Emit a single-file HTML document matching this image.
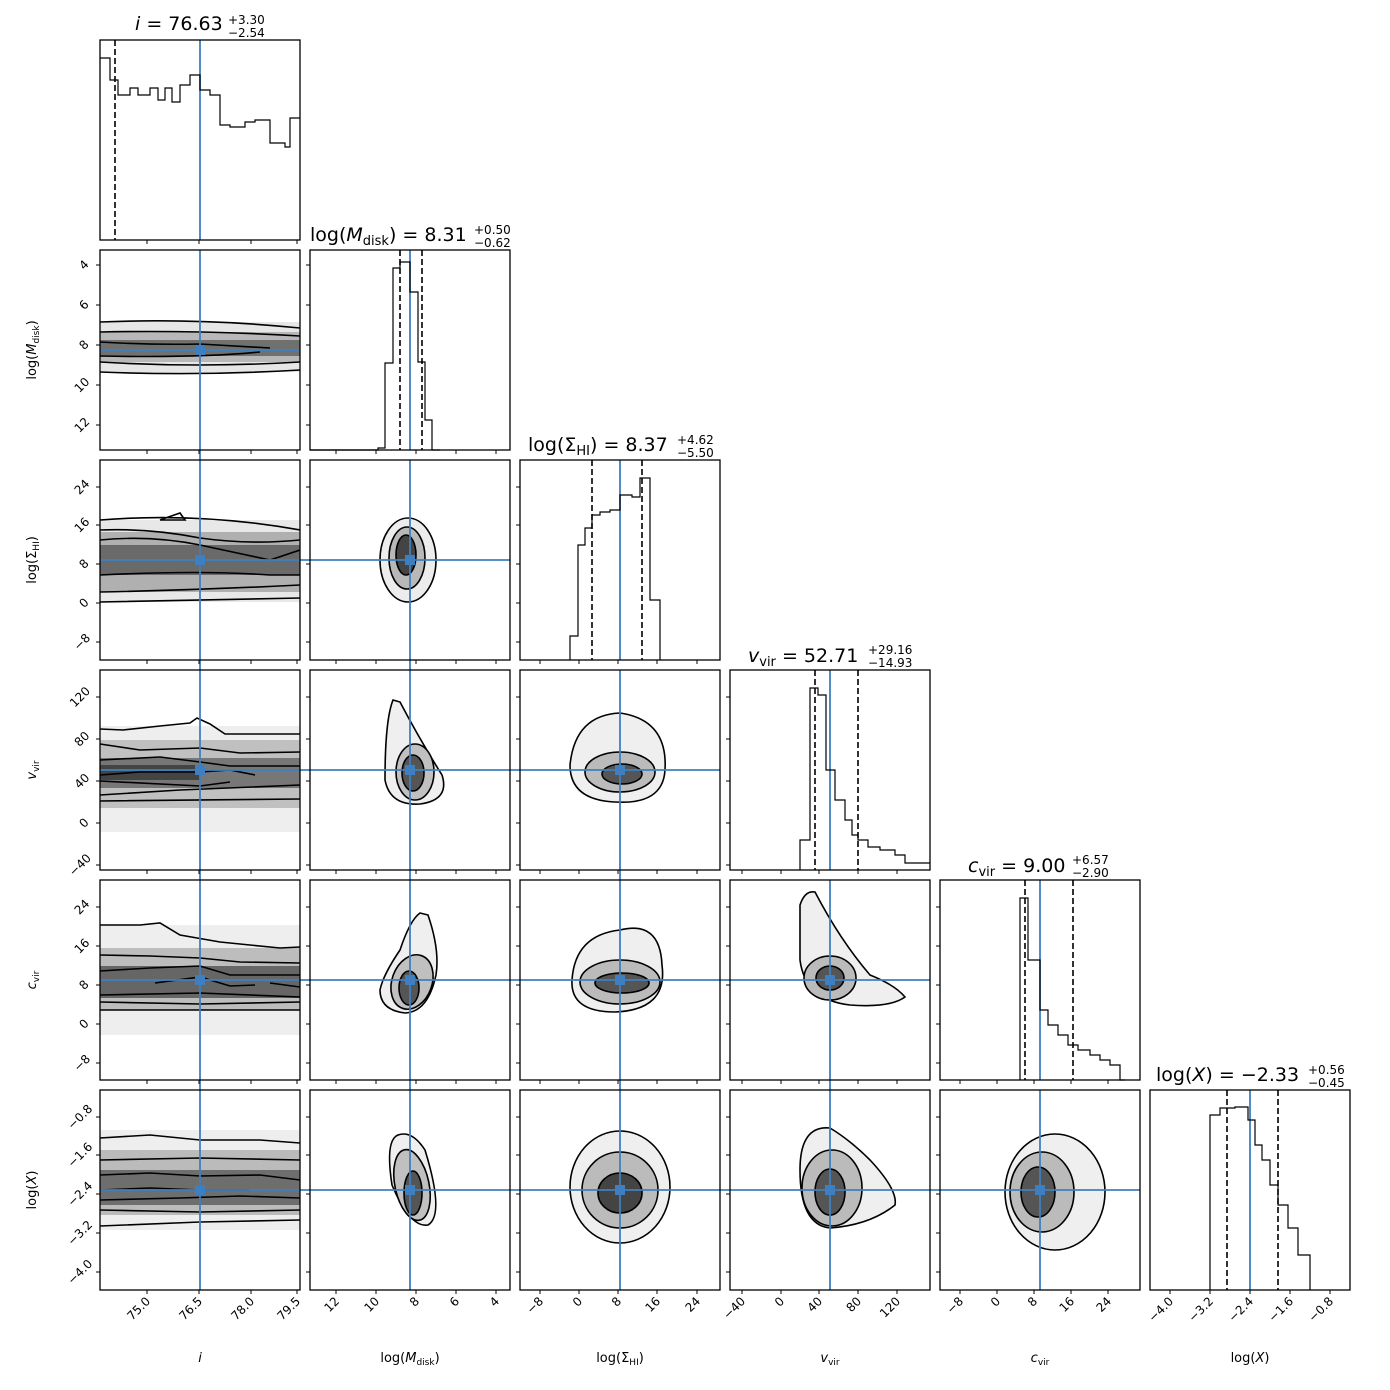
<!DOCTYPE html>
<html><head><meta charset="utf-8"><style>
html,body{margin:0;padding:0;background:#fff}
svg{display:block;font-family:"DejaVu Sans","Liberation Sans",sans-serif}
.f{fill:none;stroke:#000;stroke-width:1.3}
.c{stroke:#000;stroke-width:1.6}
.b{stroke:#3f7fbf;stroke-width:1.8}
.d{fill:none;stroke:#000;stroke-width:1.6;stroke-dasharray:6,3}
.h{fill:none;stroke:#000;stroke-width:1.2}
.t{font-size:12px}
.ti{font-size:19px}
.lab{font-size:13px}
</style></head><body>
<svg width="1390" height="1390" viewBox="0 0 1390 1390" xmlns="http://www.w3.org/2000/svg">
<defs>
<clipPath id="p0"><rect x="100" y="0" width="200" height="1390"/></clipPath>
</defs>

<g clip-path="url(#p0)">
 <rect x="100" y="322" width="200" height="50" fill="#e6e6e6"/>
 <rect x="100" y="332" width="200" height="30" fill="#b8b8b8"/>
 <rect x="100" y="340" width="200" height="16" fill="#707070"/>
 <path class="c" fill="none" d="M100 322 Q200 318 300 328 M100 372 Q200 376 300 370 M100 332 Q200 330 300 336 M100 362 Q200 368 300 362 M100 342 Q150 345 200 344 L270 348 M100 356 Q200 358 260 352"/>
 <rect x="100" y="520" width="200" height="82" fill="#e8e8e8"/>
 <rect x="100" y="532" width="200" height="60" fill="#b0b0b0"/>
 <rect x="100" y="545" width="200" height="30" fill="#6a6a6a"/>
 <path class="c" fill="none" d="M100 520 Q200 512 300 530 M100 602 Q200 600 300 598 M100 530 Q150 528 200 538 Q250 545 300 540 M100 592 Q200 590 300 585 M100 540 Q150 535 200 545 L270 560 L300 550 M100 575 Q200 570 270 575 L300 575 M160 520 L180 513 L185 520 Z"/>
 <rect x="100" y="726" width="200" height="106" fill="#eeeeee"/>
 <rect x="100" y="740" width="200" height="68" fill="#c0c0c0"/>
 <rect x="100" y="758" width="200" height="30" fill="#777"/>
 <rect x="100" y="765" width="100" height="15" fill="#444"/>
 <path class="c" fill="none" d="M100 729 L123 730 L160 726 L190 723 L197 718 L210 724 L225 734 L300 734 M100 744 L140 750 L200 748 L240 753 L300 752 M100 760 L160 757 L200 762 L230 766 L300 766 M100 775 L140 772 L200 772 L230 770 L255 775 M100 781 L200 786 L230 782 M100 795 L180 790 L300 785 M100 801 L300 799"/>
 <rect x="100" y="925" width="200" height="110" fill="#eeeeee"/>
 <rect x="100" y="948" width="200" height="62" fill="#bdbdbd"/>
 <rect x="100" y="966" width="200" height="32" fill="#666"/>
 <path class="c" fill="none" d="M100 925 L140 925 L160 923 L180 935 L220 942 L280 948 L300 947 M100 955 L150 956 L200 958 L240 962 L300 963 M100 971 L150 968 L200 966 L230 975 L300 975 M100 995 L200 993 L300 997 M100 1002 L200 1004 L300 1002 M100 1010 L300 1010 M155 983 L200 977 L230 986 L255 985 M270 983 L300 987"/>
 <rect x="100" y="1130" width="200" height="100" fill="#eeeeee"/>
 <rect x="100" y="1150" width="200" height="65" fill="#bbbbbb"/>
 <rect x="100" y="1170" width="200" height="35" fill="#6e6e6e"/>
 <path class="c" fill="none" d="M100 1138 L150 1135 L200 1140 L260 1140 L300 1143 M100 1160 L200 1158 L300 1160 M100 1175 L150 1173 L200 1176 L260 1175 L300 1180 M100 1200 L180 1198 L240 1196 L300 1198 M100 1210 L200 1212 L300 1210 M100 1226 L200 1222 L300 1220 M100 1190 L150 1188 L200 1190 L250 1190"/>
</g>

<g>
 <ellipse cx="408" cy="560" rx="28" ry="42" fill="#ececec" class="c"/>
 <ellipse cx="407" cy="558" rx="18" ry="31" fill="#b8b8b8" class="c"/>
 <ellipse cx="406" cy="555" rx="10" ry="20" fill="#444" class="c"/>
 <path class="c" fill="#efefef" d="M393 700 L400 702 Q420 740 442 775 Q450 800 420 804 Q390 806 385 780 Q385 720 393 700 Z"/>
 <ellipse cx="415" cy="772" rx="19" ry="28" fill="#c0c0c0" class="c"/>
 <ellipse cx="413" cy="773" rx="11" ry="18" fill="#555" class="c"/>
 <path class="c" fill="#efefef" d="M420 913 L428 915 Q440 950 436 975 Q428 1012 405 1013 Q380 1010 380 990 Q383 975 400 950 Q410 920 420 913 Z"/>
 <ellipse cx="412" cy="982" rx="20" ry="28" fill="#c0c0c0" class="c" transform="rotate(20 412 982)"/>
 <ellipse cx="409" cy="988" rx="10" ry="17" fill="#555" class="c"/>
 <path class="c" fill="#efefef" d="M398 1135 Q412 1130 425 1150 Q445 1215 428 1225 Q410 1228 392 1185 Q385 1140 398 1135 Z"/>
 <ellipse cx="412" cy="1185" rx="17" ry="36" fill="#c0c0c0" class="c" transform="rotate(-12 412 1185)"/>
 <ellipse cx="413" cy="1193" rx="9" ry="22" fill="#555" class="c"/>
</g>
<g>
 <path class="c" fill="#efefef" d="M570 765 Q575 715 620 713 Q668 720 665 770 Q663 805 615 802 Q570 800 570 765 Z"/>
 <ellipse cx="620" cy="772" rx="35" ry="20" fill="#bbb" class="c"/>
 <ellipse cx="622" cy="774" rx="20" ry="10" fill="#555" class="c"/>
 <path class="c" fill="#efefef" d="M572 980 Q575 935 620 930 Q660 920 662 965 Q668 1010 615 1012 Q570 1012 572 980 Z"/>
 <ellipse cx="620" cy="982" rx="40" ry="22" fill="#bbb" class="c"/>
 <ellipse cx="622" cy="983" rx="27" ry="10" fill="#555" class="c"/>
 <ellipse cx="620" cy="1187" rx="50" ry="56" fill="#efefef" class="c"/>
 <ellipse cx="620" cy="1190" rx="38" ry="38" fill="#bbb" class="c"/>
 <ellipse cx="620" cy="1193" rx="22" ry="20" fill="#444" class="c"/>
</g>
<g>
 <path class="c" fill="#efefef" d="M800 905 Q805 890 815 892 Q840 940 870 975 Q895 985 905 997 Q890 1008 850 1005 Q805 1000 800 960 Z"/>
 <ellipse cx="830" cy="978" rx="26" ry="22" fill="#bbb" class="c"/>
 <ellipse cx="830" cy="978" rx="14" ry="12" fill="#555" class="c"/>
 <path class="c" fill="#efefef" d="M800 1170 Q800 1125 830 1128 Q850 1140 870 1160 Q898 1190 895 1205 Q870 1225 830 1228 Q800 1225 800 1170 Z"/>
 <ellipse cx="832" cy="1188" rx="30" ry="38" fill="#bbb" class="c"/>
 <ellipse cx="830" cy="1192" rx="15" ry="23" fill="#555" class="c"/>
</g>
<g>
 <ellipse cx="1055" cy="1192" rx="50" ry="58" fill="#efefef" class="c"/>
 <ellipse cx="1042" cy="1192" rx="32" ry="40" fill="#bbb" class="c"/>
 <ellipse cx="1038" cy="1192" rx="17" ry="25" fill="#555" class="c"/>
</g>

<g class="b">
 <line x1="200" y1="40" x2="200" y2="240"/>
 <line x1="200" y1="250" x2="200" y2="1290"/>
 <line x1="410" y1="250" x2="410" y2="450"/>
 <line x1="410" y1="460" x2="410" y2="1290"/>
 <line x1="620" y1="460" x2="620" y2="660"/>
 <line x1="620" y1="670" x2="620" y2="1290"/>
 <line x1="830" y1="670" x2="830" y2="870"/>
 <line x1="830" y1="880" x2="830" y2="1290"/>
 <line x1="1040" y1="880" x2="1040" y2="1080"/>
 <line x1="1040" y1="1090" x2="1040" y2="1290"/>
 <line x1="1250" y1="1090" x2="1250" y2="1290"/>
 <line x1="100" y1="350" x2="300" y2="350"/>
 <line x1="100" y1="560" x2="510" y2="560"/>
 <line x1="100" y1="770" x2="720" y2="770"/>
 <line x1="100" y1="980" x2="930" y2="980"/>
 <line x1="100" y1="1190" x2="1140" y2="1190"/>
</g>
<g fill="#3f7fbf">
 <rect x="195" y="345" width="10" height="10"/>
 <rect x="195" y="555" width="10" height="10"/><rect x="405" y="555" width="10" height="10"/>
 <rect x="195" y="765" width="10" height="10"/><rect x="405" y="765" width="10" height="10"/><rect x="615" y="765" width="10" height="10"/>
 <rect x="195" y="975" width="10" height="10"/><rect x="405" y="975" width="10" height="10"/><rect x="615" y="975" width="10" height="10"/><rect x="825" y="975" width="10" height="10"/>
 <rect x="195" y="1185" width="10" height="10"/><rect x="405" y="1185" width="10" height="10"/><rect x="615" y="1185" width="10" height="10"/><rect x="825" y="1185" width="10" height="10"/><rect x="1035" y="1185" width="10" height="10"/>
</g>

<path class="h" d="M100 58 H110 V80 H118 V95 H130 V88 H138 V95 H150 V88 H158 V100 H165 V88 H172 V102 H180 V85 H190 V75 H200 V90 H210 V95 H220 V125 H230 V127 H245 V122 H255 V120 H270 V143 H285 V147 H290 V118 H300"/>
<line class="d" x1="115" y1="40" x2="115" y2="240"/>
<path class="h" d="M310 450 H378 V448 H385 V363 H393 V268 H400 V262 H410 V292 H418 V362 H425 V420 H432 V450 H440"/>
<line class="d" x1="400" y1="250" x2="400" y2="450"/>
<line class="d" x1="422" y1="250" x2="422" y2="450"/>
<path class="h" d="M570 660 V636 H578 V545 H585 V528 H592 V515 H600 V512 H610 V510 H620 V495 H632 V497 H640 V478 H650 V600 H660 V660"/>
<line class="d" x1="592" y1="460" x2="592" y2="660"/>
<line class="d" x1="642" y1="460" x2="642" y2="660"/>
<path class="h" d="M800 870 V840 H810 V688 H818 V695 H826 V770 H835 V800 H845 V820 H852 V835 H858 V840 H868 V847 H880 V850 H895 V855 H905 V863 H930"/>
<line class="d" x1="815" y1="670" x2="815" y2="870"/>
<line class="d" x1="858" y1="670" x2="858" y2="870"/>
<path class="h" d="M1020 1080 V898 H1028 V960 H1040 V1010 H1048 V1025 H1058 V1035 H1068 V1045 H1078 V1050 H1090 V1055 H1100 V1060 H1110 V1065 H1120 V1080 H1125"/>
<line class="d" x1="1025" y1="880" x2="1025" y2="1080"/>
<line class="d" x1="1073" y1="880" x2="1073" y2="1080"/>
<path class="h" d="M1210 1290 V1115 H1220 V1108 H1235 V1107 H1248 V1120 H1255 V1145 H1262 V1160 H1270 V1185 H1278 V1205 H1288 V1228 H1298 V1255 H1310 V1290"/>
<line class="d" x1="1227" y1="1090" x2="1227" y2="1290"/>
<line class="d" x1="1278" y1="1090" x2="1278" y2="1290"/>

<g class="f">
 <rect x="100" y="40" width="200" height="200"/>
 <rect x="100" y="250" width="200" height="200"/><rect x="310" y="250" width="200" height="200"/>
 <rect x="100" y="460" width="200" height="200"/><rect x="310" y="460" width="200" height="200"/><rect x="520" y="460" width="200" height="200"/>
 <rect x="100" y="670" width="200" height="200"/><rect x="310" y="670" width="200" height="200"/><rect x="520" y="670" width="200" height="200"/><rect x="730" y="670" width="200" height="200"/>
 <rect x="100" y="880" width="200" height="200"/><rect x="310" y="880" width="200" height="200"/><rect x="520" y="880" width="200" height="200"/><rect x="730" y="880" width="200" height="200"/><rect x="940" y="880" width="200" height="200"/>
 <rect x="100" y="1090" width="200" height="200"/><rect x="310" y="1090" width="200" height="200"/><rect x="520" y="1090" width="200" height="200"/><rect x="730" y="1090" width="200" height="200"/><rect x="940" y="1090" width="200" height="200"/><rect x="1150" y="1090" width="200" height="200"/>
</g>

<g stroke="#000" stroke-width="1">
 <path d="M147 240v4M199 240v4M251 240v4M297 240v4 M147 450v4M199 450v4M251 450v4M297 450v4 M147 660v4M199 660v4M251 660v4M297 660v4 M147 870v4M199 870v4M251 870v4M297 870v4 M147 1080v4M199 1080v4M251 1080v4M297 1080v4 M147 1290v4M199 1290v4M251 1290v4M297 1290v4"/>
 <path d="M336 450v4M376 450v4M416 450v4M456 450v4M496 450v4 M336 660v4M376 660v4M416 660v4M456 660v4M496 660v4 M336 870v4M376 870v4M416 870v4M456 870v4M496 870v4 M336 1080v4M376 1080v4M416 1080v4M456 1080v4M496 1080v4 M336 1290v4M376 1290v4M416 1290v4M456 1290v4M496 1290v4"/>
 <path d="M540 660v4M579 660v4M618 660v4M657 660v4M697 660v4 M540 870v4M579 870v4M618 870v4M657 870v4M697 870v4 M540 1080v4M579 1080v4M618 1080v4M657 1080v4M697 1080v4 M540 1290v4M579 1290v4M618 1290v4M657 1290v4M697 1290v4"/>
 <path d="M742 870v4M781 870v4M819 870v4M858 870v4M897 870v4 M742 1080v4M781 1080v4M819 1080v4M858 1080v4M897 1080v4 M742 1290v4M781 1290v4M819 1290v4M858 1290v4M897 1290v4"/>
 <path d="M960 1080v4M997 1080v4M1034 1080v4M1071 1080v4M1108 1080v4 M960 1290v4M997 1290v4M1034 1290v4M1071 1290v4M1108 1290v4"/>
 <path d="M1170 1290v4M1210 1290v4M1250 1290v4M1290 1290v4M1330 1290v4"/>
 <path d="M96 265h4M96 305h4M96 345h4M96 385h4M96 425h4 M306 265h4M306 305h4M306 345h4M306 385h4M306 425h4"/>
 <path d="M96 487h4M96 525h4M96 564h4M96 603h4M96 642h4 M306 487h4M306 525h4M306 564h4M306 603h4M306 642h4 M516 487h4M516 525h4M516 564h4M516 603h4M516 642h4"/>
 <path d="M96 697h4M96 739h4M96 781h4M96 823h4M96 865h4 M306 697h4M306 739h4M306 781h4M306 823h4M306 865h4 M516 697h4M516 739h4M516 781h4M516 823h4M516 865h4 M726 697h4M726 739h4M726 781h4M726 823h4M726 865h4"/>
 <path d="M96 907h4M96 946h4M96 985h4M96 1024h4M96 1063h4 M306 907h4M306 946h4M306 985h4M306 1024h4M306 1063h4 M516 907h4M516 946h4M516 985h4M516 1024h4M516 1063h4 M726 907h4M726 946h4M726 985h4M726 1024h4M726 1063h4 M936 907h4M936 946h4M936 985h4M936 1024h4M936 1063h4"/>
 <path d="M96 1117h4M96 1155h4M96 1194h4M96 1233h4M96 1272h4 M306 1117h4M306 1155h4M306 1194h4M306 1233h4M306 1272h4 M516 1117h4M516 1155h4M516 1194h4M516 1233h4M516 1272h4 M726 1117h4M726 1155h4M726 1194h4M726 1233h4M726 1272h4 M936 1117h4M936 1155h4M936 1194h4M936 1233h4M936 1272h4"/>
</g>

<g class="t" text-anchor="end">
 <text transform="translate(151,1302) rotate(-45)">75.0</text>
 <text transform="translate(203,1302) rotate(-45)">76.5</text>
 <text transform="translate(255,1302) rotate(-45)">78.0</text>
 <text transform="translate(301,1302) rotate(-45)">79.5</text>
 <text transform="translate(340,1302) rotate(-45)">12</text>
 <text transform="translate(380,1302) rotate(-45)">10</text>
 <text transform="translate(420,1302) rotate(-45)">8</text>
 <text transform="translate(460,1302) rotate(-45)">6</text>
 <text transform="translate(500,1302) rotate(-45)">4</text>
 <text transform="translate(544,1302) rotate(-45)">−8</text>
 <text transform="translate(583,1302) rotate(-45)">0</text>
 <text transform="translate(622,1302) rotate(-45)">8</text>
 <text transform="translate(661,1302) rotate(-45)">16</text>
 <text transform="translate(701,1302) rotate(-45)">24</text>
 <text transform="translate(746,1302) rotate(-45)">−40</text>
 <text transform="translate(785,1302) rotate(-45)">0</text>
 <text transform="translate(823,1302) rotate(-45)">40</text>
 <text transform="translate(862,1302) rotate(-45)">80</text>
 <text transform="translate(901,1302) rotate(-45)">120</text>
 <text transform="translate(964,1302) rotate(-45)">−8</text>
 <text transform="translate(1001,1302) rotate(-45)">0</text>
 <text transform="translate(1038,1302) rotate(-45)">8</text>
 <text transform="translate(1075,1302) rotate(-45)">16</text>
 <text transform="translate(1112,1302) rotate(-45)">24</text>
 <text transform="translate(1174,1302) rotate(-45)">−4.0</text>
 <text transform="translate(1214,1302) rotate(-45)">−3.2</text>
 <text transform="translate(1254,1302) rotate(-45)">−2.4</text>
 <text transform="translate(1294,1302) rotate(-45)">−1.6</text>
 <text transform="translate(1334,1302) rotate(-45)">−0.8</text>
</g>
<g class="t" text-anchor="middle">
 <text transform="translate(84,265) rotate(-45)" dy="4">4</text>
 <text transform="translate(84,305) rotate(-45)" dy="4">6</text>
 <text transform="translate(84,345) rotate(-45)" dy="4">8</text>
 <text transform="translate(82,385) rotate(-45)" dy="4">10</text>
 <text transform="translate(82,425) rotate(-45)" dy="4">12</text>
 <text transform="translate(82,487) rotate(-45)" dy="4">24</text>
 <text transform="translate(82,525) rotate(-45)" dy="4">16</text>
 <text transform="translate(84,564) rotate(-45)" dy="4">8</text>
 <text transform="translate(84,603) rotate(-45)" dy="4">0</text>
 <text transform="translate(82,642) rotate(-45)" dy="4">−8</text>
 <text transform="translate(80,697) rotate(-45)" dy="4">120</text>
 <text transform="translate(82,739) rotate(-45)" dy="4">80</text>
 <text transform="translate(82,781) rotate(-45)" dy="4">40</text>
 <text transform="translate(84,823) rotate(-45)" dy="4">0</text>
 <text transform="translate(80,865) rotate(-45)" dy="4">−40</text>
 <text transform="translate(82,907) rotate(-45)" dy="4">24</text>
 <text transform="translate(82,946) rotate(-45)" dy="4">16</text>
 <text transform="translate(84,985) rotate(-45)" dy="4">8</text>
 <text transform="translate(84,1024) rotate(-45)" dy="4">0</text>
 <text transform="translate(82,1063) rotate(-45)" dy="4">−8</text>
 <text transform="translate(80,1117) rotate(-45)" dy="4">−0.8</text>
 <text transform="translate(80,1155) rotate(-45)" dy="4">−1.6</text>
 <text transform="translate(80,1194) rotate(-45)" dy="4">−2.4</text>
 <text transform="translate(80,1233) rotate(-45)" dy="4">−3.2</text>
 <text transform="translate(80,1272) rotate(-45)" dy="4">−4.0</text>
</g>

<g class="lab" text-anchor="middle">
 <text x="200" y="1362" font-style="italic">i</text>
 <text x="410" y="1362">log(<tspan font-style="italic">M</tspan><tspan font-size="9" dy="3">disk</tspan><tspan dy="-3">)</tspan></text>
 <text x="620" y="1362">log(Σ<tspan font-size="9" dy="3">HI</tspan><tspan dy="-3">)</tspan></text>
 <text x="830" y="1362"><tspan font-style="italic">v</tspan><tspan font-size="9" dy="3">vir</tspan></text>
 <text x="1040" y="1362"><tspan font-style="italic">c</tspan><tspan font-size="9" dy="3">vir</tspan></text>
 <text x="1250" y="1362">log(<tspan font-style="italic">X</tspan>)</text>
 <text transform="translate(36,350) rotate(-90)">log(<tspan font-style="italic">M</tspan><tspan font-size="9" dy="3">disk</tspan><tspan dy="-3">)</tspan></text>
 <text transform="translate(36,560) rotate(-90)">log(Σ<tspan font-size="9" dy="3">HI</tspan><tspan dy="-3">)</tspan></text>
 <text transform="translate(36,770) rotate(-90)"><tspan font-style="italic">v</tspan><tspan font-size="9" dy="3">vir</tspan></text>
 <text transform="translate(36,980) rotate(-90)"><tspan font-style="italic">c</tspan><tspan font-size="9" dy="3">vir</tspan></text>
 <text transform="translate(36,1190) rotate(-90)">log(<tspan font-style="italic">X</tspan>)</text>
</g>

<g class="ti">
 <text x="135" y="30"><tspan font-style="italic">i</tspan> = 76.63</text>
 <text x="228" y="24" font-size="12">+3.30</text><text x="228" y="37" font-size="12">−2.54</text>
 <text x="310" y="241">log(<tspan font-style="italic">M</tspan><tspan font-size="13" dy="4">disk</tspan><tspan dy="-4">) = 8.31</tspan></text>
 <text x="474" y="234" font-size="12">+0.50</text><text x="474" y="247" font-size="12">−0.62</text>
 <text x="528" y="451">log(Σ<tspan font-size="13" dy="4">HI</tspan><tspan dy="-4">) = 8.37</tspan></text>
 <text x="677" y="444" font-size="12">+4.62</text><text x="677" y="457" font-size="12">−5.50</text>
 <text x="748" y="662"><tspan font-style="italic">v</tspan><tspan font-size="13" dy="4">vir</tspan><tspan dy="-4"> = 52.71</tspan></text>
 <text x="868" y="654" font-size="12">+29.16</text><text x="868" y="667" font-size="12">−14.93</text>
 <text x="968" y="872"><tspan font-style="italic">c</tspan><tspan font-size="13" dy="4">vir</tspan><tspan dy="-4"> = 9.00</tspan></text>
 <text x="1072" y="864" font-size="12">+6.57</text><text x="1072" y="877" font-size="12">−2.90</text>
 <text x="1156" y="1081">log(<tspan font-style="italic">X</tspan>) = −2.33</text>
 <text x="1308" y="1074" font-size="12">+0.56</text><text x="1308" y="1087" font-size="12">−0.45</text>
</g>
</svg>
</body></html>
